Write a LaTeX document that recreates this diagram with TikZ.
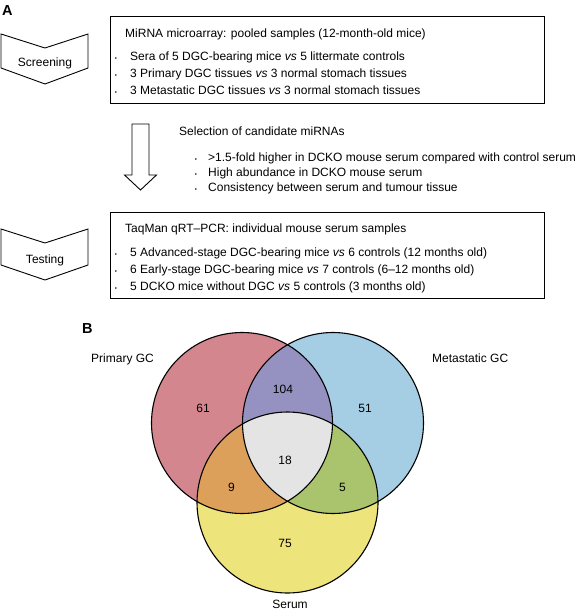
\documentclass[tikz,border=0pt]{standalone}
\usepackage{fontspec}
\setmainfont{Liberation Sans}
\definecolor{cP}{HTML}{D4868F}
\definecolor{cM}{HTML}{A5CDE3}
\definecolor{cS}{HTML}{EEE47C}
\definecolor{cPM}{HTML}{9592C1}
\definecolor{cPS}{HTML}{DDA05B}
\definecolor{cMS}{HTML}{A9C46C}
\definecolor{cAll}{HTML}{E4E4E4}
\tikzset{
  txt/.style={anchor=base west, inner sep=0pt, font=\fontsize{12}{14}\selectfont},
  ctxt/.style={anchor=base, inner sep=0pt, font=\fontsize{12}{14}\selectfont},
  panel/.style={anchor=base west, inner sep=0pt, font=\fontsize{14.5}{16}\selectfont\bfseries},
  bul/.style={anchor=base, inner sep=0pt, font=\fontsize{6}{8}\selectfont},
  boxframe/.style={draw=black, line width=0.9pt, inner sep=0pt, anchor=north west},
  chev/.style={draw=black, line width=0.9pt, fill=white, line join=miter},
  ring/.style={draw=black, line width=1.1pt},
}
\begin{document}
\begin{tikzpicture}[x=1pt,y=-1pt]
\useasboundingbox (0,0) rectangle (584,612);
% panel labels
\node[panel] (labA) at (2,16) {A};
\node[panel] (labB) at (82,333) {B};
% chevrons
\draw[chev] (1,34) -- (45,48) -- (88,34) -- (88,68) -- (45,84) -- (1,68) -- cycle;
\node[ctxt] (screen) at (45,66.3) {Screening};
\draw[chev] (1,229) -- (45,243) -- (88,229) -- (88,265) -- (45,280) -- (1,265) -- cycle;
\node[ctxt] (test) at (45,263.3) {Testing};
% box 1
\node[boxframe, minimum width=434pt, minimum height=87pt] (box1) at (110,16) {};
\node[txt] (t1) at (125,37.3) {MiRNA microarray: pooled samples (12-month-old mice)};
\node[bul] (b11) at (116,60.3) {•};
\node[txt] (t11) at (130,60.3) {Sera of 5 DGC-bearing mice \textit{vs} 5 littermate controls};
\node[bul] (b12) at (116,77.3) {•};
\node[txt] (t12) at (130,77.3) {3 Primary DGC tissues \textit{vs} 3 normal stomach tissues};
\node[bul] (b13) at (116,94.3) {•};
\node[txt] (t13) at (130,94.3) {3 Metastatic DGC tissues \textit{vs} 3 normal stomach tissues};
% block arrow
\draw[chev] (132,124) -- (149,124) -- (149,175) -- (156.5,175) -- (140.5,190) -- (124.5,175) -- (132,175) -- cycle;
% selection
\node[txt] (sel) at (179,135.3) {Selection of candidate miRNAs};
\node[bul] (s1b) at (196,161.3) {•};
\node[txt] (s1) at (208,161.3) {>1.5-fold higher in DCKO mouse serum compared with control serum};
\node[bul] (s2b) at (196,176.3) {•};
\node[txt] (s2) at (208,176.3) {High abundance in DCKO mouse serum};
\node[bul] (s3b) at (196,191.3) {•};
\node[txt] (s3) at (208,191.3) {Consistency between serum and tumour tissue};
% box 2
\node[boxframe, minimum width=434pt, minimum height=86pt] (box2) at (110,212) {};
\node[txt] (t2) at (125,232.3) {TaqMan qRT–PCR: individual mouse serum samples};
\node[bul] (b21) at (116,256.3) {•};
\node[txt] (t21) at (130,256.3) {5 Advanced-stage DGC-bearing mice \textit{vs} 6 controls (12 months old)};
\node[bul] (b22) at (116,273.3) {•};
\node[txt] (t22) at (130,273.3) {6 Early-stage DGC-bearing mice \textit{vs} 7 controls (6–12 months old)};
\node[bul] (b23) at (116,290.3) {•};
\node[txt] (t23) at (130,290.3) {5 DCKO mice without DGC \textit{vs} 5 controls (3 months old)};
% Venn
\coordinate (P) at (242,423);
\coordinate (M) at (333,423);
\coordinate (S) at (287.5,502.5);
\def\rr{90.5pt}
\fill[cP] (P) circle[radius=\rr];
\fill[cM] (M) circle[radius=\rr];
\fill[cS] (S) circle[radius=\rr];
\begin{scope}
  \clip (P) circle[radius=\rr];
  \fill[cPM] (M) circle[radius=\rr];
  \fill[cPS] (S) circle[radius=\rr];
\end{scope}
\begin{scope}
  \clip (M) circle[radius=\rr];
  \fill[cMS] (S) circle[radius=\rr];
\end{scope}
\begin{scope}
  \clip (P) circle[radius=\rr];
  \clip (M) circle[radius=\rr];
  \fill[cAll] (S) circle[radius=\rr];
\end{scope}
\draw[ring] (P) circle[radius=\rr];
\draw[ring] (M) circle[radius=\rr];
\draw[ring] (S) circle[radius=\rr];
\node[txt] (lP) at (91,362.3) {Primary GC};
\node[txt] (lM) at (432,362.3) {Metastatic GC};
\node[ctxt] (lS) at (290,608.3) {Serum};
\node[ctxt] (n61) at (203,412.8) {61};
\node[ctxt] (n104) at (283,393.8) {104};
\node[ctxt] (n51) at (365,412.8) {51};
\node[ctxt] (n18) at (285,464.3) {18};
\node[ctxt] (n9) at (231.5,491.3) {9};
\node[ctxt] (n5) at (342.5,491.3) {5};
\node[ctxt] (n75) at (285,547.3) {75};
\end{tikzpicture}
\end{document}
